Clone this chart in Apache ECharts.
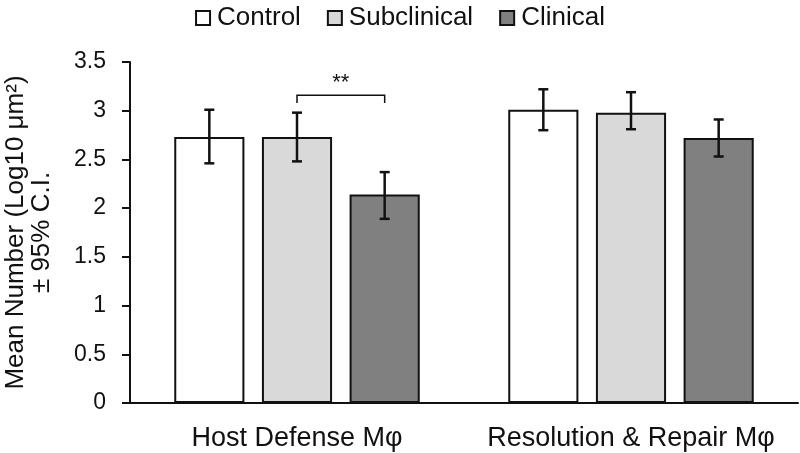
<!DOCTYPE html>
<html lang="en">
	<head>
		<meta charset="utf-8">
		<title>Macrophage chart</title>
		<style>
			html, body { margin: 0; padding: 0; background: #fff; }
			#chart { width: 800px; height: 453px; }
		</style>
	</head>
	<body>
		<div id="chart"></div>

		<script src="https://cdn.jsdelivr.net/npm/echarts@6/dist/echarts.min.js"></script>
		<script>
			// data
			var categories = ['Host Defense M\u03c6', 'Resolution & Repair M\u03c6'];
			var seriesNames = ['Control', 'Subclinical', 'Clinical'];
			var controlMean = [2.73, 3.01];
			var subclinicalMean = [2.73, 2.98];
			var clinicalMean = [2.14, 2.72];
			var controlLow = [2.46, 2.80];
			var controlHigh = [3.01, 3.22];
			var subclinicalLow = [2.48, 2.81];
			var subclinicalHigh = [2.98, 3.19];
			var clinicalLow = [1.89, 2.53];
			var clinicalHigh = [2.37, 2.91];
			var yTicks = [0, 0.5, 1, 1.5, 2, 2.5, 3, 3.5];
			// significance bracket: category, from series, to series, top, end, label
			var sigBracket = [0, 1, 2, 3.16, 3.08, '**'];

			var fills = ['#ffffff', '#d9d9d9', '#808080'];
			var means = [controlMean, subclinicalMean, clinicalMean];
			var lows = [controlLow, subclinicalLow, clinicalLow];
			var highs = [controlHigh, subclinicalHigh, clinicalHigh];
			var FONT = '"Liberation Sans", Arial, sans-serif';

			var BAR_W = 0.21;   // fraction of band
			var STEP = BAR_W * 1.25;

			function offsetOf(seriesIdx, band) {
				return (seriesIdx - 1) * STEP * band;
			}

			// error bar rows: [category, low, high, seriesIdx]
			var errData = [];
			for (var s = 0; s < 3; s++) {
				for (var c = 0; c < categories.length; c++) {
					errData.push([c, lows[s][c], highs[s][c], s]);
				}
			}

			var series = [];
			for (var i = 0; i < 3; i++) {
				series.push({
					name: seriesNames[i],
					type: 'bar',
					data: means[i],
					barWidth: '21%',
					barGap: '25%',
					itemStyle: {
						color: fills[i],
						borderColor: '#111',
						borderWidth: 2
					}
				});
			}

			series.push({
				type: 'custom',
				name: 'err',
				z: 5,
				data: errData,
				renderItem: function (params, api) {
					var band = api.size([1, 0])[0];
					var off = offsetOf(api.value(3), band);
					var lo = api.coord([api.value(0), api.value(1)]);
					var hi = api.coord([api.value(0), api.value(2)]);
					var x = lo[0] + off;
					var cap = 5;
					var st = { stroke: '#111', lineWidth: 2.5 };
					return {
						type: 'group',
						children: [
							{ type: 'line', shape: { x1: x, y1: lo[1], x2: x, y2: hi[1] }, style: st },
							{ type: 'line', shape: { x1: x - cap, y1: lo[1], x2: x + cap, y2: lo[1] }, style: st },
							{ type: 'line', shape: { x1: x - cap, y1: hi[1], x2: x + cap, y2: hi[1] }, style: st }
						]
					};
				}
			});

			series.push({
				type: 'custom',
				name: 'sig',
				z: 5,
				data: [sigBracket],
				renderItem: function (params, api) {
					var band = api.size([1, 0])[0];
					var top = api.coord([api.value(0), api.value(3)]);
					var end = api.coord([api.value(0), api.value(4)]);
					var x1 = top[0] + offsetOf(api.value(1), band);
					var x2 = top[0] + offsetOf(api.value(2), band);
					var st = { stroke: '#111', lineWidth: 1.5, fill: null };
					return {
						type: 'group',
						children: [
							{ type: 'polyline', shape: { points: [[x1, end[1]], [x1, top[1]], [x2, top[1]], [x2, end[1]]] }, style: st },
							{ type: 'text', style: { text: sigBracket[5], x: (x1 + x2) / 2, y: top[1] - 1, align: 'center', verticalAlign: 'bottom', font: '22px ' + FONT, fill: '#111' } }
						]
					};
				}
			});

			var option = {
				backgroundColor: '#fff',
				animation: false,
				textStyle: { fontFamily: FONT },
				legend: {
					data: seriesNames,
					top: 0,
					left: 'center',
					icon: 'rect',
					itemWidth: 14,
					itemHeight: 14,
					itemGap: 26,
					textStyle: { fontSize: 26, color: '#111', padding: [0, 0, 0, 2] }
				},
				grid: {
					left: 130,
					right: 2,
					top: 62,
					bottom: 50,
					containLabel: false,
					outerBoundsMode: 'none'
				},
				xAxis: {
					type: 'category',
					data: categories,
					axisLine: { lineStyle: { color: '#111', width: 2 } },
					axisTick: { show: false },
					axisLabel: { interval: 0, hideOverlap: false, fontSize: 27, color: '#111', margin: 22 }
				},
				yAxis: {
					type: 'value',
					min: yTicks[0],
					max: yTicks[yTicks.length - 1],
					interval: 0.5,
					name: 'Mean Number (Log10 \u03bcm\u00b2)\n\u00b1 95% C.I.',
					nameLocation: 'middle',
					nameRotate: 90,
					nameGap: 75,
					nameTextStyle: { fontSize: 26, color: '#111', lineHeight: 26 },
					axisLine: { show: true, lineStyle: { color: '#111', width: 2 } },
					axisTick: { show: true, inside: false, length: 8, lineStyle: { color: '#111', width: 2 } },
					axisLabel: { fontSize: 23, color: '#111', margin: 24 },
					splitLine: { show: false }
				},
				series: series
			};

			var myChart = echarts.init(document.getElementById('chart'));
			myChart.setOption(option);
		</script>
	</body>
</html>
